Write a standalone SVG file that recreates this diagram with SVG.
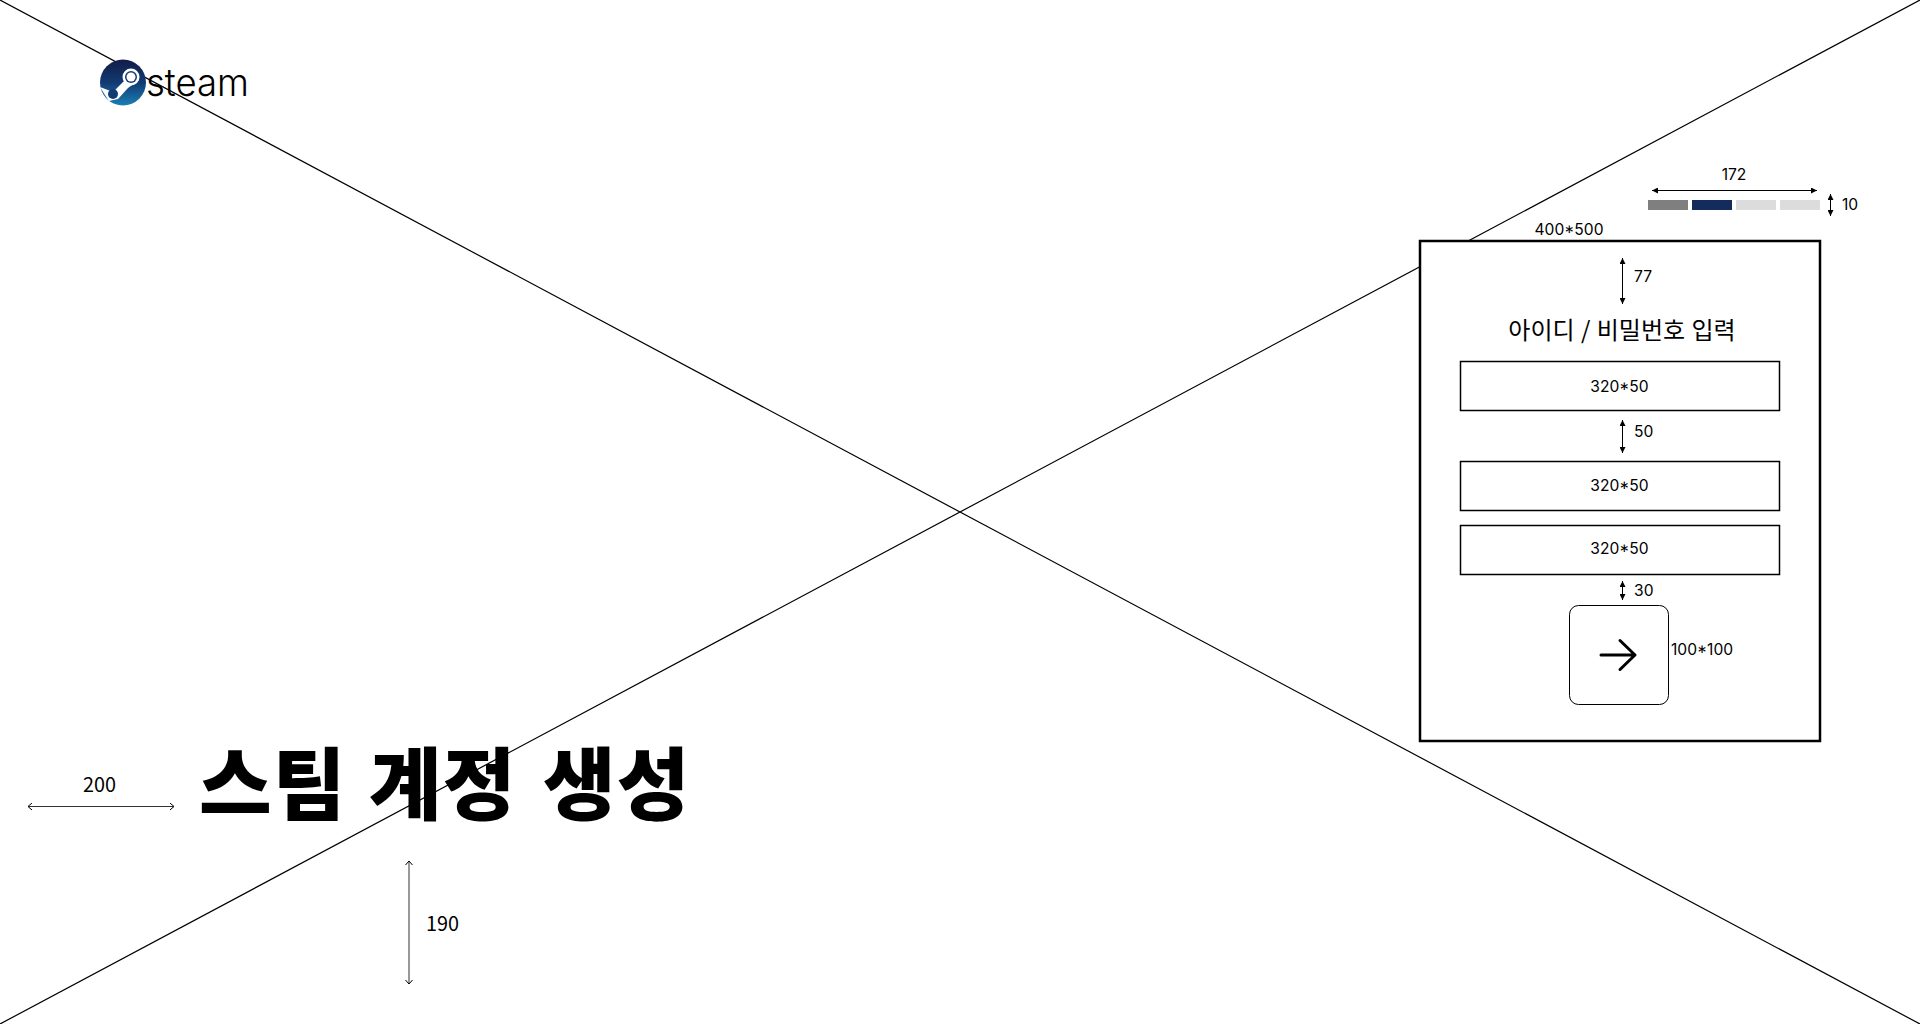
<svg xmlns="http://www.w3.org/2000/svg" width="1920" height="1024" viewBox="0 0 1920 1024">
<style>
text{font-family:"Noto Sans CJK KR","Noto Sans",sans-serif;fill:#000}
.d{font-size:15.6px;font-family:Inter,"Noto Sans CJK KR",sans-serif}
.c{text-anchor:middle}
.box{fill:#fff;stroke:#000;stroke-width:1.5}
.dim{fill:none;stroke:#000;stroke-width:1;marker-start:url(#as);marker-end:url(#ae)}
.thin{fill:none;stroke:#333;stroke-width:1;marker-start:url(#os);marker-end:url(#oe)}
.x{stroke:#000;stroke-width:1.2;fill:none}
</style>
<defs>
<marker id="ae" markerWidth="7" markerHeight="6" refX="6" refY="3" orient="auto" markerUnits="userSpaceOnUse"><path d="M0 0L6 3L0 6Z" fill="#000"/></marker>
<marker id="as" markerWidth="7" markerHeight="6" refX="0" refY="3" orient="auto" markerUnits="userSpaceOnUse"><path d="M6 0L0 3L6 6Z" fill="#000"/></marker>
<marker id="oe" markerWidth="7" markerHeight="8" refX="5" refY="4" orient="auto" markerUnits="userSpaceOnUse"><path d="M1 0.5L5 4L1 7.5" fill="none" stroke="#000"/></marker>
<marker id="os" markerWidth="7" markerHeight="8" refX="1" refY="4" orient="auto" markerUnits="userSpaceOnUse"><path d="M5 0.5L1 4L5 7.5" fill="none" stroke="#000"/></marker>
<linearGradient id="sg" x1="0" y1="0" x2="0" y2="1"><stop offset="0" stop-color="#111c49"/><stop offset=".5" stop-color="#123a72"/><stop offset="1" stop-color="#1a7fb5"/></linearGradient>
</defs>
<g id="connectors">
<path class="x" d="M0 0L1920 1024M0 1024L1920 0"/>
</g>
<g id="logo">
<circle cx="123" cy="82.5" r="23" fill="url(#sg)"/>
<path d="M100 87L113 92L127 78L132 72L139 80L128 88L118 99L109 101L105 95Z" fill="#fff"/>
<circle cx="131" cy="77" r="8.5" fill="#fff"/><circle cx="131" cy="77" r="6" fill="#123a72"/><circle cx="131" cy="77" r="4.5" fill="#fff"/>
<circle cx="113" cy="94" r="5" fill="#123a72"/>
<text x="146" y="96" font-size="38" textLength="103" lengthAdjust="spacingAndGlyphs" style="font-family:'Inter',sans-serif;font-weight:300">steam</text>
</g>
<g id="title">
<text y="814" font-size="79" font-weight="900" letter-spacing="1"><tspan x="199">스팀</tspan><tspan x="369">계정</tspan><tspan x="543">생성</tspan></text>
</g>
<g id="dim-200"><path class="thin" d="M28 806.5H174"/><text x="99.5" y="792" font-size="20" class="c" textLength="33" lengthAdjust="spacingAndGlyphs">200</text></g>
<g id="dim-190"><path class="thin" d="M409 861V984"/><text x="426" y="931" font-size="20" textLength="33" lengthAdjust="spacingAndGlyphs">190</text></g>
<g id="progress">
<rect x="1648" y="200" width="40" height="10" fill="#7f7f7f"/>
<rect x="1692" y="200" width="40" height="10" fill="#132c5c"/>
<rect x="1736" y="200" width="40" height="10" fill="#dcdcdc"/>
<rect x="1780" y="200" width="40" height="10" fill="#dcdcdc"/>
</g>
<g id="dim-172"><path class="dim" d="M1652 190.5H1817"/><text x="1734" y="180" class="d c">172</text></g>
<g id="dim-10"><path class="dim" d="M1830.5 194V216"/><text x="1842" y="210" class="d">10</text></g>
<g id="frame">
<rect x="1420" y="241" width="400" height="500" fill="#fff" stroke="#000" stroke-width="2.5"/>
<text x="1569" y="235" class="d c">400*500</text>
</g>
<g id="dim-77"><path class="dim" d="M1622.5 258V304"/><text x="1634" y="282" class="d">77</text></g>
<g id="heading"><text x="1622" y="339" font-size="24" class="c" word-spacing="1">아이디 / 비밀번호 입력</text></g>
<g id="input-1"><rect class="box" x="1460.5" y="361.5" width="319" height="49"/><text x="1619.5" y="392" class="d c">320*50</text></g>
<g id="dim-50"><path class="dim" d="M1622.5 420V453"/><text x="1634" y="437" class="d">50</text></g>
<g id="input-2"><rect class="box" x="1460.5" y="461.5" width="319" height="49"/><text x="1619.5" y="491" class="d c">320*50</text></g>
<g id="input-3"><rect class="box" x="1460.5" y="525.5" width="319" height="49"/><text x="1619.5" y="554" class="d c">320*50</text></g>
<g id="dim-30"><path class="dim" d="M1622.5 581V600"/><text x="1634" y="596" class="d">30</text></g>
<g id="button">
<rect x="1569.5" y="605.5" width="99" height="99" rx="9" fill="#fff" stroke="#000" stroke-width="1"/>
<path d="M1601 655H1635M1620 640.5L1635 655L1620 669.5" fill="none" stroke="#000" stroke-width="3" stroke-linecap="round" stroke-linejoin="round"/>
<text x="1671" y="655" class="d">100*100</text>
</g>
</svg>
